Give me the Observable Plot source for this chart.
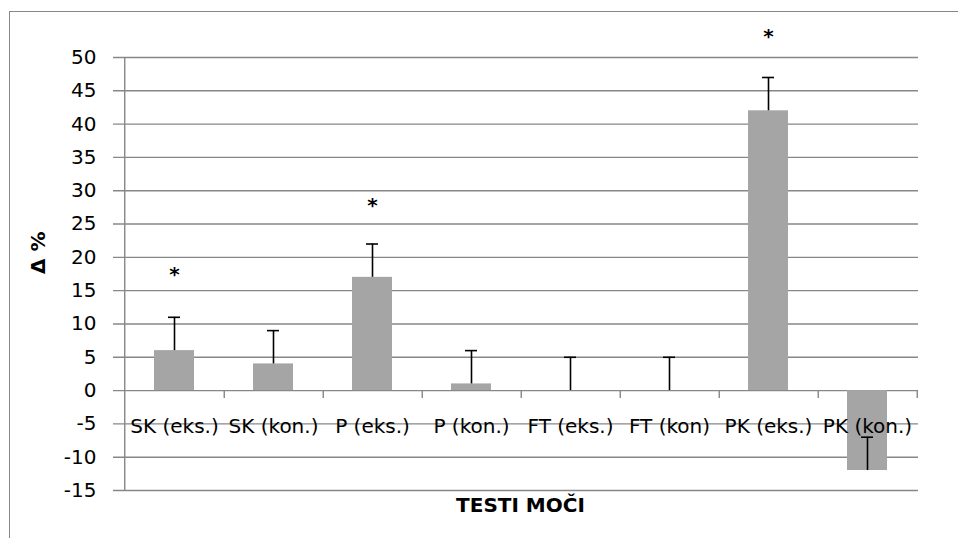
<!DOCTYPE html>
<html><head><meta charset="utf-8">
<script src="https://cdn.jsdelivr.net/npm/d3@7"></script>
<script src="https://cdn.jsdelivr.net/npm/@observablehq/plot@0.6"></script>
<style>
html,body{margin:0;padding:0;background:#fff;overflow:hidden;width:958px;height:538px}
#frame{position:absolute;left:9px;top:11px;width:1000px;height:600px;border:1.5px solid #878787;box-sizing:border-box}
#chart{position:absolute;left:0;top:0}
</style></head><body>
<div id="frame"></div><div id="chart"></div>
<script>
const categories = ["SK (eks.)","SK (kon.)","P (eks.)","P (kon.)","FT (eks.)","FT (kon)","PK (eks.)","PK (kon.)"];
const values = [6, 4, 17, 1, 0, 0, 42, -12];
const errors = [5, 5, 5, 5, 5, 5, 5, 5];
const starCategories = ["SK (eks.)", "P (eks.)", "PK (eks.)"];
const starLevels = [18, 28.4, 53.7];
const yTicks = [-15, -10, -5, 0, 5, 10, 15, 20, 25, 30, 35, 40, 45, 50];
const yLabel = "Δ %";
const xLabel = "TESTI MOČI";

const W = 958, H = 538, mL = 122, mR = 40, mT = 57, mB = 48;
const step = (W - mL - mR) / categories.length;
const grey = "#878787";
const fs = 20;
const data = categories.map((c, i) => ({cat: c, value: values[i], hi: values[i] + errors[i]}));
const stars = starCategories.map((c, i) => ({cat: c, level: starLevels[i]}));

const plot = Plot.plot({
  width: W, height: H,
  marginLeft: mL, marginRight: mR, marginTop: mT, marginBottom: mB,
  style: {fontFamily: "DejaVu Sans", fontSize: fs + "px", color: "#000", background: "transparent"},
  x: {domain: categories, paddingInner: 0.6, paddingOuter: 0.3, axis: null},
  y: {domain: [-15, 50], axis: null},
  marks: [
    Plot.gridY(yTicks, {stroke: grey, strokeOpacity: 1, strokeWidth: 1.4, insetLeft: -9}),
    Plot.axisY(yTicks, {tickSize: 0, tickPadding: 26, tickFormat: d => String(d), fontSize: fs, fill: "#000", label: null}),
    Plot.ruleX([categories[0]], {x: d => d, dx: -step / 2, y1: -15, y2: 50, stroke: grey, strokeWidth: 1.4}),
    Plot.ruleX(categories, {x: d => d, dx: step / 2, y1: 0, y2: 0, insetBottom: -8, stroke: grey, strokeWidth: 1.4}),
    Plot.barY(data, {x: "cat", y: "value", fill: "#a5a5a5"}),
    Plot.ruleX(data, {x: "cat", y1: "value", y2: "hi", stroke: "#000", strokeWidth: 1.6}),
    Plot.tickY(data, {x: "cat", y: "hi", stroke: "#000", strokeWidth: 1.6, insetLeft: 14, insetRight: 14}),
    Plot.text(categories, {x: d => d, y: 0, dy: 36, text: d => d, fontSize: fs, fill: "#000"}),
    Plot.text(stars, {x: "cat", y: "level", dy: 4, text: () => "*", fontSize: fs, fontWeight: "bold", fill: "#000"}),
    Plot.text([yLabel], {frameAnchor: "left", dx: -84, rotate: -90, text: d => d, fontSize: fs, fontWeight: "bold", fill: "#000"}),
    Plot.text([xLabel], {frameAnchor: "bottom", dy: 21, text: d => d, fontSize: fs, fontWeight: "bold", fill: "#000"})
  ]
});
document.getElementById("chart").appendChild(plot);
</script>
</body></html>
